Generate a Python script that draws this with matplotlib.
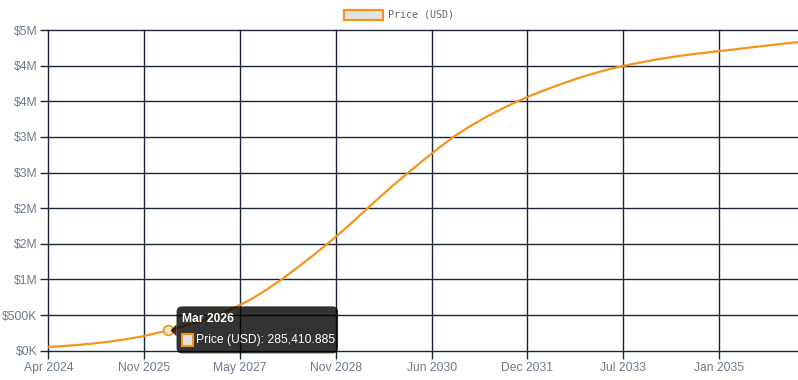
import matplotlib
matplotlib.use("Agg")
import matplotlib.pyplot as plt
from matplotlib.patches import FancyBboxPatch, Polygon, Rectangle

# months after Apr 2024
months = [0, 3, 6, 9, 12, 15, 18, 21, 23, 24, 27, 30, 33, 36, 39, 42, 45, 48,
          51, 54, 57, 60, 63, 66, 69, 72, 75, 78, 81, 84, 87, 90, 93, 96, 99,
          102, 105, 108, 111, 114, 117, 120, 123, 126, 129, 132, 135, 138, 141, 144]
price = [52000, 66000, 83000, 104000, 130000, 162000, 200000, 250000, 285410.885,
         303000, 362000, 432000, 512000, 612000, 724000, 860000, 1010000, 1175000,
         1345000, 1522000, 1710000, 1910000, 2110000, 2305000, 2490000, 2670000,
         2845000, 3010000, 3150000, 3275000, 3390000, 3495000, 3590000, 3675000,
         3755000, 3830000, 3895000, 3955000, 4005000, 4048000, 4088000, 4123000,
         4153000, 4180000, 4205000, 4230000, 4256000, 4281000, 4306000, 4330000]

x_labels = ["Apr 2024", "Nov 2025", "May 2027", "Nov 2028", "Jun 2030",
            "Dec 2031", "Jul 2033", "Jan 2035"]
y_ticks = [0, 500000, 1000000, 1500000, 2000000, 2500000, 3000000, 3500000, 4000000, 4500000]
y_labels = ["$0K", "$500K", "$1M", "$2M", "$2M", "$3M", "$3M", "$4M", "$4M", "$5M"]

hover_idx = 8
hover_label = "Mar 2026"
series_name = "Price (USD)"

ORANGE = "#f7931a"
GRID = "#1b2538"
TICK = "#6c7a8f"
W, H = 798, 380

plt.rcParams["font.family"] = ["Liberation Sans", "DejaVu Sans"]

fig = plt.figure(figsize=(W / 100, H / 100), dpi=100)
ax = fig.add_axes([48.3 / W, 1 - 350.7 / H, (798 - 48.3) / W, (350.7 - 30) / H])

ax.plot(months, price, color=ORANGE, lw=1.6, solid_capstyle="round",
        solid_joinstyle="round", zorder=3)

ax.set_xlim(0, 144)
ax.set_ylim(0, 4500000)
step = 144 / (750 / 95.86)
ax.set_xticks([i * step for i in range(len(x_labels))])
ax.set_xticklabels(x_labels)
ax.set_yticks(y_ticks)
ax.set_yticklabels(y_labels)

ax.grid(True, color=GRID, lw=1.0)
ax.set_axisbelow(True)
for gl in ax.get_xgridlines() + ax.get_ygridlines():
    gl.set_clip_on(False)
for s in ax.spines.values():
    s.set_visible(False)
ax.tick_params(axis="both", colors=GRID, labelcolor=TICK, labelsize=8.7,
               length=5.6, width=1.0)
ax.tick_params(axis="x", pad=2.5)
ax.tick_params(axis="y", pad=2.0)

# legend at top
fig.patches.append(Rectangle((343.5 / W, 1 - 19.5 / H), 39 / W, 9.5 / H,
                             transform=fig.transFigure, facecolor="#e2e2e2",
                             edgecolor=ORANGE, lw=1.6))
fig.text(388 / W, 1 - 14.5 / H, series_name, family="DejaVu Sans Mono",
         fontsize=7.2, color="#666666", va="center", ha="left")

# hover point + tooltip
px, py = ax.transData.transform((months[hover_idx], price[hover_idx]))
py = H - py  # top-origin pixels


def ff(x, y):
    return (x / W, 1 - y / H)


ax.plot(months[hover_idx], price[hover_idx], "o", ms=7, mfc="#f3e6d6",
        mec=ORANGE, mew=1.3, zorder=4)

bx0, bx1 = px + 8.5, px + 170
by0, by1 = py - 24, py + 23
fig.patches.append(FancyBboxPatch(ff(bx0, by1), (bx1 - bx0) / W, (by1 - by0) / H,
                                  boxstyle="round,pad=0,rounding_size=0.007",
                                  transform=fig.transFigure, facecolor=(0, 0, 0, 0.8),
                                  edgecolor="none", mutation_aspect=W / H))
fig.patches.append(Polygon([ff(px + 2.5, py), ff(bx0, py - 6), ff(bx0, py + 6)],
                           closed=True, transform=fig.transFigure,
                           facecolor=(0, 0, 0, 0.8), edgecolor="none"))
fig.text(*ff(px + 13.5, py - 11), hover_label, color="white", fontsize=8.7,
         fontweight="bold", va="center", ha="left")
fig.patches.append(Rectangle(ff(px + 13.5, py + 15.5), 11.5 / W, 11.5 / H,
                             transform=fig.transFigure, facecolor="#e2e2e2",
                             edgecolor=ORANGE, lw=1.5))
fig.text(*ff(px + 28, py + 10), f"{series_name}: {price[hover_idx]:,.3f}",
         color="white", fontsize=8.7, va="center", ha="left")

fig.savefig("out.png", dpi=100)
